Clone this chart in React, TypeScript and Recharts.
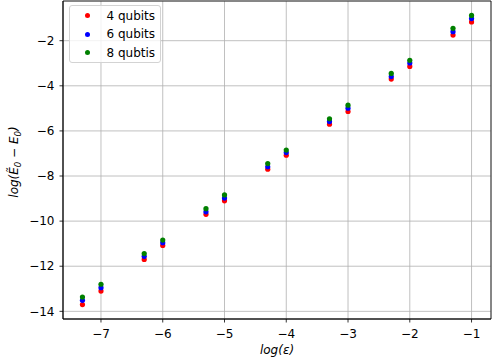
import React from 'react';
import {
  ScatterChart,
  Scatter,
  XAxis,
  YAxis,
  CartesianGrid,
  ReferenceArea,
  Legend,
  Label,
} from 'recharts';

// log10 of epsilon
const epsLog = [-7.3, -7, -6.3, -6, -5.3, -5, -4.3, -4, -3.3, -3, -2.3, -2, -1.3, -1];

// log(E0~ - E0) per system size
const err4 = [-13.7, -13.1, -11.7, -11.08, -9.7, -9.1, -7.7, -7.08, -5.7, -5.14, -3.7, -3.14, -1.75, -1.17];
const err6 = [-13.51, -12.95, -11.56, -10.96, -9.59, -8.98, -7.59, -6.96, -5.58, -4.99, -3.59, -2.99, -1.6, -1.02];
const err8 = [-13.37, -12.8, -11.44, -10.84, -9.45, -8.84, -7.45, -6.85, -5.46, -4.86, -3.45, -2.87, -1.45, -0.88];

const xTicks = [-7, -6, -5, -4, -3, -2, -1];
const yTicks = [-14, -12, -10, -8, -6, -4, -2];

const seriesNames = ['4 qubits', '6 qubits', '8 qubtis'];
const seriesColors = ['#ff0000', '#0000ff', '#008000'];

const X_DOMAIN: [number, number] = [-7.615, -0.685];
const Y_DOMAIN: [number, number] = [-14.34, -0.24];

const FONT = '"DejaVu Sans", sans-serif';
const FS = 12;

const toPoints = (ys: number[]) => epsLog.map((x, i) => ({ x, y: ys[i] }));
const allSeries = [err4, err6, err8].map(toPoints);

const fmt = (v: number) => (v < 0 ? `\u2212${Math.abs(v)}` : `${v}`);

const Dot = (color: string) => (props: any) => {
  const { cx, cy } = props;
  if (cx == null || cy == null) return null;
  return <circle cx={cx} cy={cy} r={2.6} fill={color} />;
};

// rotated y label with real subscripts
const YLabel = (props: any) => {
  const vb = props.viewBox || {};
  const bx = (vb.x || 0) + 18.3;
  const by = (vb.y || 0) + (vb.height || 0) / 2 + 2;
  return (
    <text
      x={bx}
      y={by}
      transform={`rotate(-90, ${bx}, ${by})`}
      textAnchor="middle"
      fill="#000"
      fontSize={FS}
      fontFamily={FONT}
      fontStyle="italic"
    >
      {'log(\u1ebc'}
      <tspan fontSize={8.5} dy={2.5}>0</tspan>
      <tspan dy={-2.5}>{' \u2212 E'}</tspan>
      <tspan fontSize={8.5} dy={2.5}>0</tspan>
      <tspan dy={-2.5}>)</tspan>
    </text>
  );
};

const LegendBox = () => (
  <div
    style={{
      width: 90,
      height: 56,
      border: '1px solid #d3d3d3',
      borderRadius: 3,
      background: 'rgba(255,255,255,0.8)',
      fontFamily: FONT,
      fontSize: FS,
      boxSizing: 'content-box',
    }}
  >
    {seriesNames.map((name, i) => (
      <div key={name} style={{ position: 'relative', height: 18.4, top: 0.8 }}>
        <span
          style={{
            position: 'absolute',
            left: 15,
            top: 6.6,
            width: 5,
            height: 5,
            borderRadius: '50%',
            background: seriesColors[i],
          }}
        />
        <span style={{ position: 'absolute', left: 36.5, top: 2, lineHeight: '14px', color: '#000', whiteSpace: 'nowrap' }}>
          {name}
        </span>
      </div>
    ))}
  </div>
);

const App: React.FC = () => {
  return (
    <div style={{ position: 'absolute', left: 0, top: 0, background: '#fff' }}>
      <ScatterChart width={492} height={363} margin={{ top: 1, right: 1, left: 0, bottom: 0 }}>
        <CartesianGrid stroke="#b0b0b0" strokeWidth={0.8} />
        <XAxis
          type="number"
          dataKey="x"
          domain={X_DOMAIN}
          ticks={xTicks}
          allowDataOverflow
          height={44}
          tickSize={3.5}
          tickMargin={7}
          tickFormatter={fmt}
          axisLine={{ stroke: '#000', strokeWidth: 0.8 }}
          tickLine={{ stroke: '#000', strokeWidth: 0.8 }}
          tick={{ fill: '#000', fontSize: FS, fontFamily: FONT }}
          label={{
            value: 'log(\u03b5)',
            position: 'insideBottom',
            offset: 9.5,
            fill: '#000',
            fontSize: FS,
            fontFamily: FONT,
            fontStyle: 'italic',
          }}
        />
        <YAxis
          type="number"
          dataKey="y"
          domain={Y_DOMAIN}
          ticks={yTicks}
          allowDataOverflow
          width={63}
          tickSize={3.5}
          tickMargin={5}
          tickFormatter={fmt}
          axisLine={{ stroke: '#000', strokeWidth: 0.8 }}
          tickLine={{ stroke: '#000', strokeWidth: 0.8 }}
          tick={{ fill: '#000', fontSize: FS, fontFamily: FONT }}
        >
          <Label content={YLabel} />
        </YAxis>
        <ReferenceArea
          x1={X_DOMAIN[0]}
          x2={X_DOMAIN[1]}
          y1={Y_DOMAIN[0]}
          y2={Y_DOMAIN[1]}
          fill="none"
          stroke="#000"
          strokeWidth={0.8}
          ifOverflow="visible"
        />
        {allSeries.map((pts, i) => (
          <Scatter
            key={seriesNames[i]}
            name={seriesNames[i]}
            data={pts}
            fill={seriesColors[i]}
            shape={Dot(seriesColors[i])}
            isAnimationActive={false}
          />
        ))}
        <Legend
          layout="vertical"
          align="center"
          verticalAlign="middle"
          content={() => <LegendBox />}
          wrapperStyle={{ left: 69, top: 5, width: 92, height: 58 }}
        />
      </ScatterChart>
    </div>
  );
};

export default App;
